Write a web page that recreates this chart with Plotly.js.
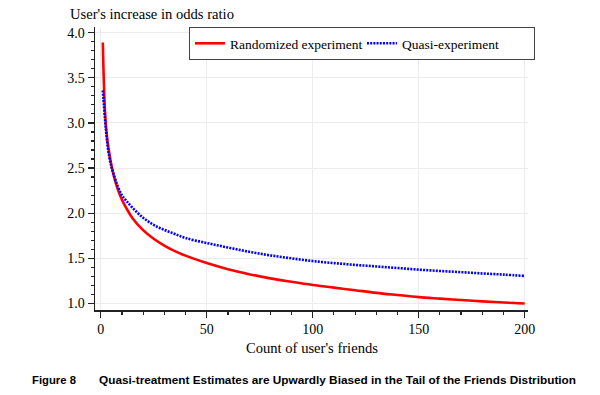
<!DOCTYPE html>
<html>
<head>
<meta charset="utf-8">
<script src="https://cdn.plot.ly/plotly-3.0.1.min.js"></script>
<style>
html,body{margin:0;padding:0;background:#fff;}
#chart{width:600px;height:395px;}
</style>
</head>
<body>
<div id="chart"></div>
<script>
// Count of user's friends
const friends = [1, 2, 3, 4, 5, 6, 8, 10, 12, 15, 20, 25, 30, 35, 40, 50, 60, 70, 80, 90, 100, 110, 120, 130, 140, 150, 160, 170, 180, 190, 200];
// Randomized experiment: increase in odds ratio
const randomized = [3.89, 3.14, 2.84, 2.67, 2.54, 2.43, 2.27, 2.15, 2.06, 1.945, 1.813, 1.717, 1.642, 1.58, 1.53, 1.448, 1.38, 1.325, 1.278, 1.24, 1.205, 1.176, 1.147, 1.118, 1.094, 1.071, 1.054, 1.038, 1.024, 1.011, 1.0];
// Quasi-experiment: increase in odds ratio
const quasi = [3.36, 3.05, 2.80, 2.63, 2.52, 2.44, 2.30, 2.20, 2.14, 2.06, 1.95, 1.87, 1.815, 1.77, 1.725, 1.67, 1.62, 1.573, 1.533, 1.50, 1.47, 1.447, 1.428, 1.41, 1.393, 1.375, 1.36, 1.347, 1.333, 1.32, 1.305];

const seriesNames = ["Randomized experiment", "Quasi-experiment"];
const xTickVals = [0, 50, 100, 150, 200];
const yTickVals = [1.0, 1.5, 2.0, 2.5, 3.0, 3.5, 4.0];
const xTitle = "Count of user's friends";
const yTitle = "User's increase in odds ratio";
const figLabel = "Figure 8";
const caption = "Quasi-treatment Estimates are Upwardly Biased in the Tail of the Friends Distribution";

const serif = "Liberation Serif, Times New Roman, serif";
const sans = "Liberation Sans, Arial, sans-serif";

const traces = [
  {x: friends, y: randomized, name: seriesNames[0], type: "scatter", mode: "lines",
   line: {color: "#ff0000", width: 2.6, shape: "spline", smoothing: 1}},
  {x: friends, y: quasi, name: seriesNames[1], type: "scatter", mode: "lines",
   line: {color: "#0000ff", width: 2.6, dash: "2px,1.2px", shape: "spline", smoothing: 1}}
];

const axisCommon = {
  showline: true, linecolor: "#222", linewidth: 1.5,
  ticks: "outside", ticklen: 6, tickwidth: 1.2, tickcolor: "#222",
  showgrid: true, gridcolor: "#ececec", gridwidth: 1,
  zeroline: false,
  tickfont: {family: serif, size: 14, color: "#000"},
  mirror: false
};

const layout = {
  width: 600, height: 395,
  margin: {l: 95, r: 72, t: 27, b: 85, pad: 0},
  paper_bgcolor: "#fff", plot_bgcolor: "#fff",
  showlegend: true,
  legend: {
    orientation: "h", x: 0.217, xanchor: "left", y: 1.0, yanchor: "top",
    bgcolor: "#fff", bordercolor: "#444", borderwidth: 1,
    entrywidth: 127, entrywidthmode: "pixels",
    font: {family: serif, size: 13.5, color: "#000"}
  },
  xaxis: Object.assign({}, axisCommon, {
    range: [-2.69, 201.56],
    tickmode: "array", tickvals: xTickVals, ticktext: xTickVals.map(String),
    minor: {dtick: 10, ticklen: 3, tickcolor: "#222", ticks: "outside", showgrid: false}
  }),
  yaxis: Object.assign({}, axisCommon, {
    range: [0.928, 4.062],
    tickmode: "array", tickvals: yTickVals, ticktext: yTickVals.map(v => v.toFixed(1)),
    minor: {dtick: 0.1, tick0: 1.0, ticklen: 3, tickcolor: "#222", ticks: "outside", showgrid: false}
  }),
  annotations: [
    {text: yTitle, xref: "paper", yref: "paper", x: -0.0617, y: 1.047, xanchor: "left", yanchor: "middle",
     showarrow: false, font: {family: serif, size: 14.6, color: "#000"}},
    {text: xTitle, xref: "paper", yref: "paper", x: 0.5, y: -0.134, xanchor: "center", yanchor: "middle",
     showarrow: false, font: {family: serif, size: 14.6, color: "#000"}},
    {text: "<b>" + figLabel + "</b>", xref: "paper", yref: "paper", x: -0.150, y: -0.247, xanchor: "left", yanchor: "middle",
     showarrow: false, font: {family: sans, size: 11.3, color: "#000"}},
    {text: "<b>" + caption + "</b>", xref: "paper", yref: "paper", x: 0.0046, y: -0.247, xanchor: "left", yanchor: "middle",
     showarrow: false, font: {family: sans, size: 11.8, color: "#000"}}
  ]
};

Plotly.newPlot("chart", traces, layout, {staticPlot: true, displayModeBar: false});
</script>
</body>
</html>
